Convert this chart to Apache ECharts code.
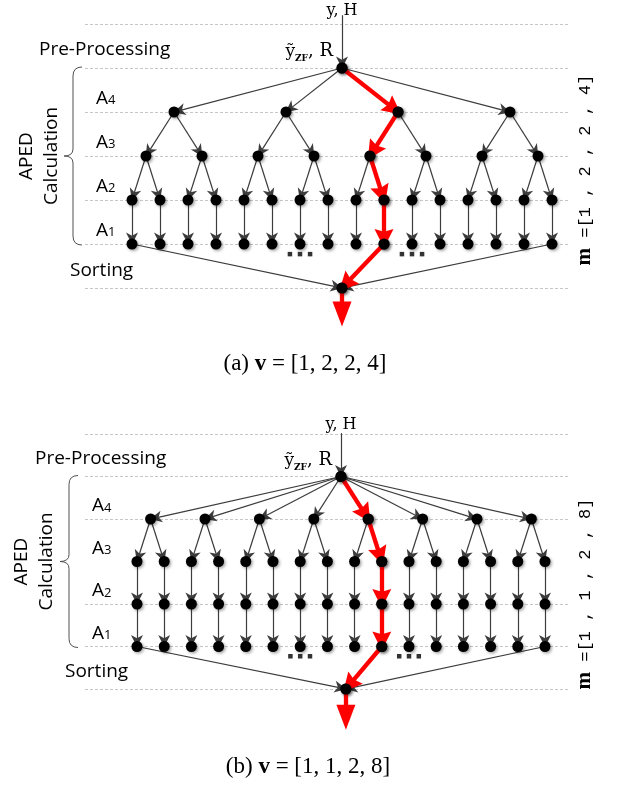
<!DOCTYPE html>
<html>
<head>
<meta charset="utf-8">
<script src="https://cdn.jsdelivr.net/npm/echarts@6/dist/echarts.min.js"></script>
<style>
html,body{margin:0;padding:0;background:#ffffff;}
#chart{width:618px;height:787px;}
</style>
</head>
<body>
<div id="chart"></div>
<script>
// ===== data =====
const mVectorA = [1, 2, 2, 4];
const mVectorB = [1, 1, 2, 8];
const selectedLeafA = 9;
const selectedLeafB = 9;
const ellipsisLeaves = [6, 10];
const bandLabels = ['A4', 'A3', 'A2', 'A1'];
const stageTop = 'Pre-Processing';
const stageBottom = 'Sorting';
const groupLabel = ['APED', 'Calculation'];
const inputLabel = 'y, H';
const captionTags = ['(a)', '(b)'];

// ===== layout (pixels / level units) =====
const layouts = [
  {cx:342, unit:28, top:24, levelH:44, guideL:85, guideR:568, inLevel:-0.2, yhLevel:-0.3, outLevel:6.32, sortX:0,
   textL:39, bandL:96, sortL:70, apedX:27, braceX:73, mX:585, mY:170, capX:305, capY:364, special:false},
  {cx:341, unit:27.2, top:434, levelH:42.5, guideL:85, guideR:568, inLevel:-0.02, yhLevel:-0.22, outLevel:6.38, sortX:0.18,
   textL:35, bandL:92, sortL:65, apedX:22, braceX:69, mX:585, mY:594, capX:308, capY:767, special:true}
];

const SANS = '"Open Sans"';
const GRAY_ARROW = 'path://M5,0 L10,10 L5,7.2 L0,10 Z';
const RED_ARROW = 'path://M5,0 L10,10 L5,8.6 L0,10 Z';
const DOWN_TRI = 'path://M0,0 L10,0 L5,10 Z';
const nodeStyle = {color:'#000', shadowColor:'rgba(0,0,0,0.35)', shadowBlur:3, shadowOffsetX:1.5, shadowOffsetY:1.5};

function buildTree(v, gi) {
  const branching = v.slice().reverse();
  const nLeaves = branching.reduce((a, b) => a * b, 1);
  let cur = [];
  for (let i = 0; i < nLeaves; i++) cur.push({x: i - (nLeaves - 1) / 2, lo: i, hi: i});
  const levels = [cur];
  for (let d = branching.length - 1; d >= 0; d--) {
    const b = branching[d], next = [];
    for (let j = 0; j < cur.length; j += b) {
      const kids = cur.slice(j, j + b);
      next.push({x: kids.reduce((s, k) => s + k.x, 0) / kids.length, lo: kids[0].lo, hi: kids[kids.length - 1].hi, kids});
    }
    cur = next; levels.unshift(cur);
  }
  levels.forEach((lv, li) => lv.forEach((n, k) => { n.id = 'g' + gi + '_' + li + '_' + k; n.y = li + 1; }));
  return {levels, nLeaves};
}

const xAxes = [], yAxes = [], grids = [], series = [], graphics = [];

function braceParts(bx, bt, bb) {
  const bm = (bt + bb) / 2, st = {stroke:'#505050', fill:'none', lineWidth:1};
  const q = (x1, y1, cx, cy, x2, y2) => ({type:'bezierCurve', silent:true,
    shape:{x1, y1, x2, y2, cpx1: cx, cpy1: cy}, style: st});
  const l = (x1, y1, x2, y2) => ({type:'line', silent:true, shape:{x1, y1, x2, y2}, style: st});
  return [
    q(bx + 9, bt - 1, bx, bt - 1, bx, bt + 8),
    l(bx, bt + 8, bx, bm - 7),
    q(bx, bm - 7, bx, bm, bx - 9, bm),
    q(bx - 9, bm, bx, bm, bx, bm + 7),
    l(bx, bm + 7, bx, bb - 8),
    q(bx, bb - 8, bx, bb + 1, bx + 9, bb + 1)
  ];
}

[[mVectorA, selectedLeafA], [mVectorB, selectedLeafB]].forEach(([v, sel], gi) => {
  const L = layouts[gi];
  const {levels, nLeaves} = buildTree(v, gi);
  grids.push({left: L.guideL, top: L.top, width: L.guideR - L.guideL, height: 6 * L.levelH});
  xAxes.push({type:'value', gridIndex: gi, min: (L.guideL - L.cx) / L.unit, max: (L.guideR - L.cx) / L.unit, show: false});
  const splitColors = [0,1,2,3,4,5,6].map(k => (L.special && k === 3) ? 'rgba(0,0,0,0)' : '#c6c6c6');
  yAxes.push({type:'value', gridIndex: gi, min: 0, max: 6, interval: 1, inverse: true,
    axisLine:{show:false}, axisTick:{show:false}, axisLabel:{show:false},
    splitLine:{show:true, lineStyle:{type:[3,2], color: splitColors, width:1}}});

  // gray graph
  const nodes = [{name:'in' + gi, value:[0, L.inLevel], symbolSize: 0}];
  const links = [];
  levels.forEach(lv => lv.forEach(n => nodes.push({name: n.id, value: [n.x, n.y]})));
  nodes.push({name:'sort' + gi, value:[L.sortX, 6]});
  links.push({source:'in' + gi, target: levels[0][0].id});
  levels.forEach(lv => lv.forEach(n => { if (n.kids) n.kids.forEach(k => links.push({source: n.id, target: k.id})); }));
  const leaves = levels[levels.length - 1];
  links.push({source: leaves[0].id, target: 'sort' + gi});
  links.push({source: leaves[leaves.length - 1].id, target: 'sort' + gi});
  series.push({type:'graph', coordinateSystem:'cartesian2d', xAxisIndex: gi, yAxisIndex: gi, layout:'none',
    silent:true, animation:false, z:2, symbol:'circle', symbolSize: 11, itemStyle: nodeStyle,
    label:{show:false}, edgeSymbol:['none', GRAY_ARROW], edgeSymbolSize:[0, 12],
    lineStyle:{color:'#3c3c3c', width:1.2, opacity:1}, data: nodes, links: links});

  // red (selected) path
  const path = levels.map(lv => lv.find(n => n.lo <= sel && sel <= n.hi));
  const rNodes = path.map(n => ({name: n.id, value: [n.x, n.y]}));
  rNodes.push({name:'sort' + gi, value:[L.sortX, 6]});
  rNodes.push({name:'out' + gi, value:[L.sortX, L.outLevel], symbol: DOWN_TRI, symbolSize:[19, 25],
    symbolOffset:[0, 12], itemStyle:{color:'#ff0000', shadowBlur:0, shadowColor:'rgba(0,0,0,0)'}});
  const rLinks = [];
  for (let i = 0; i < path.length - 1; i++) rLinks.push({source: path[i].id, target: path[i + 1].id});
  rLinks.push({source: path[path.length - 1].id, target: 'sort' + gi});
  rLinks.push({source: 'sort' + gi, target: 'out' + gi, symbol:['none', 'none']});
  series.push({type:'graph', coordinateSystem:'cartesian2d', xAxisIndex: gi, yAxisIndex: gi, layout:'none',
    silent:true, animation:false, z:3, symbol:'circle', symbolSize: 11, itemStyle: nodeStyle,
    label:{show:false}, edgeSymbol:['none', RED_ARROW], edgeSymbolSize:[0, 19],
    lineStyle:{color:'#ff0000', width:4.3, opacity:1}, data: rNodes, links: rLinks});

  // ellipsis dots below leaves
  const dots = [];
  ellipsisLeaves.forEach(li => [-1, 0, 1].forEach(k => dots.push([li - (nLeaves - 1) / 2 + k * 0.36, 5.23])));
  const sc = {type:'scatter', xAxisIndex: gi, yAxisIndex: gi, silent:true, animation:false, clip:false, z:2,
    symbol:'rect', symbolSize:4.5, itemStyle:{color:'#000'}, data: dots};
  if (L.special) {
    sc.markLine = {silent:true, symbol:'none', label:{show:false}, animation:false,
      lineStyle:{type:[9,5], color:'#b4b4b4', width:1.4},
      data:[[{coord:[(76 - L.cx) / L.unit, 3]}, {coord:[(570 - L.cx) / L.unit, 3]}]]};
  }
  series.push(sc);

  // ===== texts =====
  const y0 = L.top, h = L.levelH;
  graphics.push({type:'text', x: L.cx, y: y0 + L.yhLevel * h, silent:true,
    style:{text: inputLabel, font:'16px "DejaVu Serif"', fill:'#000', align:'center', verticalAlign:'middle'}});
  graphics.push({type:'text', x: L.cx - 9, y: y0 + 0.66 * h, silent:true,
    style:{text:'{y|ỹ}{s|ZF}{r|, R}', align:'right', verticalAlign:'middle', fill:'#000',
      rich:{y:{fontSize:17, fontFamily:'DejaVu Serif', lineHeight:20, verticalAlign:'bottom', padding:[0,0,3,0]},
            s:{fontSize:9, fontWeight:'bold', fontFamily:'DejaVu Serif', lineHeight:20, verticalAlign:'bottom'},
            r:{fontSize:18, fontFamily:'DejaVu Serif', lineHeight:20, verticalAlign:'bottom', padding:[0,0,3,0]}}}});
  graphics.push({type:'text', x: L.textL, y: y0 + 0.58 * h, silent:true,
    style:{text: stageTop, font:'19px ' + SANS, fill:'#000', align:'left', verticalAlign:'middle'}});
  bandLabels.forEach((b, k) => {
    graphics.push({type:'text', x: L.bandL, y: y0 + (1.66 + k) * h, silent:true,
      style:{text:'{a|' + b.charAt(0) + '}{s|' + b.slice(1) + '}', align:'left', verticalAlign:'middle', fill:'#000',
        rich:{a:{fontSize:19, fontFamily:'Open Sans', lineHeight:22, verticalAlign:'bottom'},
              s:{fontSize:13, fontFamily:'Open Sans', lineHeight:22, verticalAlign:'bottom', padding:[0,0,1,0]}}}});
  });
  graphics.push({type:'text', x: L.sortL, y: y0 + 5.6 * h, silent:true,
    style:{text: stageBottom, font:'19px ' + SANS, fill:'#000', align:'left', verticalAlign:'middle'}});
  graphics.push({type:'text', x: L.apedX, y: y0 + 3 * h, rotation: Math.PI / 2, silent:true,
    style:{text: groupLabel[0], font:'19px ' + SANS, fill:'#000', align:'center', verticalAlign:'middle'}});
  graphics.push({type:'text', x: L.apedX + 25, y: y0 + 3 * h, rotation: Math.PI / 2, silent:true,
    style:{text: groupLabel[1], font:'19px ' + SANS, fill:'#000', align:'center', verticalAlign:'middle'}});
  braceParts(L.braceX, y0 + h, y0 + 5 * h).forEach(p => graphics.push(p));
  graphics.push({type:'text', x: L.mX, y: L.mY, rotation: Math.PI / 2, silent:true,
    style:{text:'{m|m}{t| =[' + v.join(' , ') + ']}', align:'center', verticalAlign:'middle', fill:'#000',
      rich:{m:{fontSize:21, fontWeight:'bold', fontFamily:'Liberation Serif'},
            t:{fontSize:17, fontFamily:'Liberation Mono'}}}});
  graphics.push({type:'text', x: L.capX, y: L.capY, silent:true,
    style:{text:'{n|' + captionTags[gi] + ' }{b|v}{n| = [' + v.join(', ') + ']}', align:'center', verticalAlign:'middle', fill:'#000',
      rich:{n:{fontSize:23, fontFamily:'Liberation Serif'},
            b:{fontSize:23, fontWeight:'bold', fontFamily:'Liberation Serif'}}}});
});

const chart = echarts.init(document.getElementById('chart'), null, {renderer:'canvas'});
chart.setOption({
  backgroundColor:'#ffffff',
  animation:false,
  grid: grids, xAxis: xAxes, yAxis: yAxes,
  series: series,
  graphic: graphics
});
</script>
</body>
</html>
